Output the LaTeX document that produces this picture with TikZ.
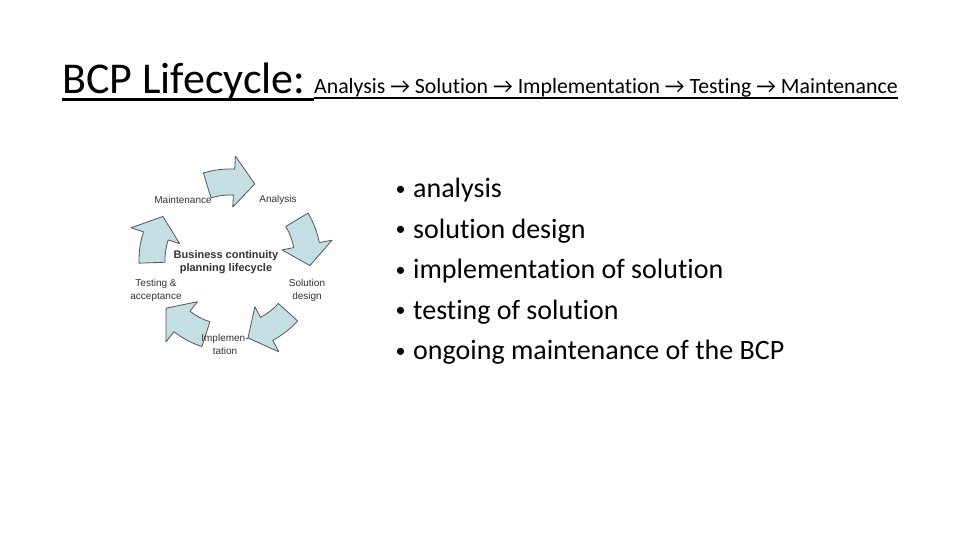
\documentclass[tikz,border=0pt]{standalone}
\usepackage{fontspec}
\setmainfont{Carlito}[Ligatures=NoCommon]
\newfontfamily\arialf{Liberation Sans}
\definecolor{arrowfill}{RGB}{196,223,228}
\definecolor{arrowline}{RGB}{85,85,85}
\newcommand\cycarrow[1]{%
  \filldraw[cyc] ({#1+20}:91pt) arc[start angle={#1+20},end angle={#1},radius=91pt]
    -- ({#1}:104pt) -- ({#1-15}:80pt) -- ({#1}:53pt) -- ({#1}:65pt)
    arc[start angle={#1},end angle={#1+20},radius=65pt] -- cycle;}
\begin{document}
\begin{tikzpicture}[x=1pt,y=1pt,
  cyc/.style={fill=arrowfill,draw=arrowline,line width=0.8pt,line join=round},
  lbl/.style={font=\arialf\fontsize{10}{13}\selectfont,text=black!80,inner sep=0pt,align=center},
  bul/.style={font=\fontsize{28}{34}\selectfont,anchor=base west,inner sep=0pt},
  dotb/.style={font=\fontsize{20}{24}\selectfont,anchor=base west,inner sep=0pt}]
\useasboundingbox (0,0) rectangle (960,540);
% title
\node[anchor=base west,inner sep=0pt,font=\fontsize{44}{50}\selectfont] (title) at (62,446) {BCP Lifecycle:};
\node[anchor=base west,inner sep=0pt,font=\fontsize{21.8}{26}\selectfont] (sub) at (314,446) {Analysis → Solution → Implementation → Testing → Maintenance};
\draw[line width=2.4pt] (62,440.5) -- (314,440.5);
\draw[line width=1.4pt] (314,442) -- (898,442);
% cycle diagram
\begin{scope}[shift={(230,280)}]
  \foreach \a in {87,11,-62,-128,162} {\cycarrow{\a}}
\end{scope}
\node[lbl] (maint) at (183,340) {Maintenance};
\node[lbl] (anal) at (278,340) {Analysis};
\node[lbl,font=\arialf\bfseries\fontsize{11}{13}\selectfont] (centre) at (226,278) {Business continuity\\planning lifecycle};
\node[lbl] (test) at (156,250) {Testing \&\\acceptance};
\node[lbl] (sol) at (307,250) {Solution\\design};
\node[lbl] (impl) at (225,196) {Implemen-\\tation};
% bullets
\foreach \t [count=\i] in {analysis,solution design,implementation of solution,testing of solution,ongoing maintenance of the BCP} {
  \pgfmathsetmacro\yy{342-40.5*(\i-1)}
  \node[dotb] (dot\i) at (395.5,\yy+2.5) {•};
  \node[bul] (b\i) at (413,\yy) {\t};
}
\end{tikzpicture}
\end{document}
